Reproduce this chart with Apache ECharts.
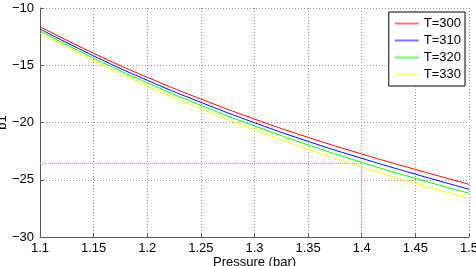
<!DOCTYPE html>
<html>
<head>
<meta charset="utf-8">
<script src="https://cdn.jsdelivr.net/npm/echarts@6/dist/echarts.min.js"></script>
<style>
  html, body { margin: 0; padding: 0; background: #fff; }
  #main { width: 476px; height: 266px; }
</style>
</head>
<body>
<div id="main"></div>
<script>
// pressure values (bar)
var pressure = [1.1, 1.15, 1.2, 1.25, 1.3, 1.35, 1.4, 1.45, 1.5];
var names = ['T=300', 'T=310', 'T=320', 'T=330'];
var colors = ['#ff0000', '#0000ff', '#00ff00', '#ffff00'];
// b1
var b1_300 = [-11.63, -13.95, -16.05, -17.95, -19.7, -21.3, -22.75, -24.1, -25.4];
var b1_310 = [-11.83, -14.18, -16.31, -18.24, -20.02, -21.65, -23.13, -24.51, -25.83];
var b1_320 = [-12.0, -14.38, -16.53, -18.5, -20.3, -21.95, -23.48, -24.88, -26.18];
var b1_330 = [-12.2, -14.6, -16.8, -18.8, -20.63, -22.32, -23.88, -25.31, -26.62];
// magenta guide
var markP = 1.4;
var markB = -23.57;

var allB = [b1_300, b1_310, b1_320, b1_330];
var font = 'Liberation Sans';

var series = names.map(function (n, i) {
    return {
        name: n,
        type: 'line',
        smooth: true,
        symbol: 'none',
        color: colors[i],
        data: pressure.map(function (p, j) { return [p, allB[i][j]]; }),
        lineStyle: { width: 1, color: colors[i] },
        itemStyle: { color: colors[i] }
    };
});
series.push({
    name: 'guide',
    type: 'line',
    symbol: 'none',
    data: [[1.1, markB], [markP, markB], [markP, -30]],
    lineStyle: { width: 1, color: '#ff66ff', type: [1, 1] },
    z: 1
});

var myecharts = echarts.init(document.getElementById('main'));
var option = {
    animation: false,
    textStyle: { fontFamily: font },
    grid: { left: 40, right: 7, top: 8, bottom: 29, outerBoundsMode: 'none' },
    legend: {
        data: names.map(function (n, i) {
            return {
                name: n,
                icon: 'path://M0,0H24V2H0Z',
                itemStyle: { color: colors[i], opacity: 0.55, borderWidth: 0 }
            };
        }),
        orient: 'vertical',
        right: 11,
        top: 12,
        backgroundColor: '#fff',
        borderColor: '#000',
        borderWidth: 1,
        borderRadius: 0,
        padding: [5, 4, 5, 6],
        itemGap: 4,
        itemWidth: 24,
        itemHeight: 13,
        itemStyle: { borderWidth: 0 },
        textStyle: { fontFamily: font, fontSize: 13, color: '#000', lineHeight: 13 }
    },
    xAxis: {
        type: 'value',
        min: 1.1,
        max: 1.5,
        interval: 0.05,
        name: 'Pressure (bar)',
        nameLocation: 'middle',
        nameGap: 19,
        nameMoveOverlap: false,
        nameTextStyle: { fontFamily: font, fontSize: 13, color: '#000' },
        axisLine: { lineStyle: { color: '#555' } },
        axisTick: { inside: true, length: 4, lineStyle: { color: '#555' } },
        axisLabel: {
            fontFamily: font, fontSize: 13, color: '#000', margin: 5,
            formatter: function (v) { return String(+v.toFixed(2)); }
        },
        splitLine: { show: true, lineStyle: { color: '#999', type: [1, 2] } }
    },
    yAxis: {
        type: 'value',
        min: -30,
        max: -10,
        interval: 5,
        name: 'b1',
        nameLocation: 'middle',
        nameGap: 31,
        nameMoveOverlap: false,
        nameTextStyle: { fontFamily: font, fontSize: 13, color: '#000' },
        axisLine: { show: true, lineStyle: { color: '#555' } },
        axisTick: { show: true, inside: true, length: 4, lineStyle: { color: '#555' } },
        axisLabel: {
            fontFamily: font, fontSize: 13, color: '#000', margin: 6,
            formatter: function (v) { return String(v).replace('-', '\u2212'); }
        },
        splitLine: { show: true, lineStyle: { color: '#999', type: [1, 2] } }
    },
    series: series
};
myecharts.setOption(option);
</script>
</body>
</html>
